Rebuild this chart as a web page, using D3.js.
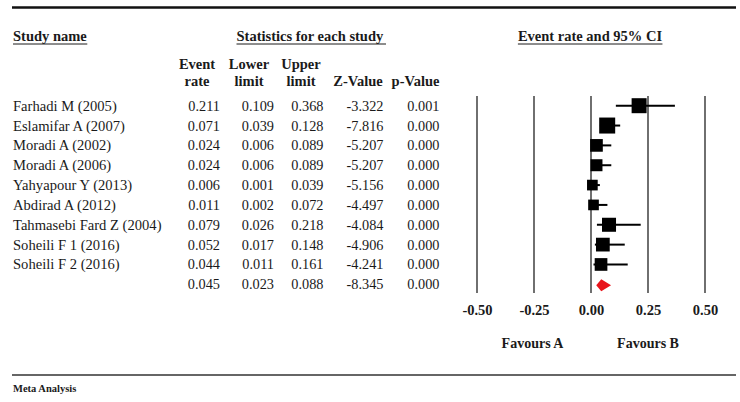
<!DOCTYPE html>
<html>
<head>
<meta charset="utf-8">
<script src="https://cdn.jsdelivr.net/npm/d3@7"></script>
<style>
  html, body { margin: 0; padding: 0; background: #fff; }
  svg { display: block; }
  text { font-family: "Liberation Serif", "Times New Roman", serif; fill: #1a1a1a; }
</style>
</head>
<body>
<svg id="chart" width="740" height="402"></svg>
<script>
// ---- Data ----
const studies = ["Farhadi M (2005)", "Eslamifar A (2007)", "Moradi A (2002)", "Moradi A (2006)",
  "Yahyapour Y (2013)", "Abdirad A (2012)", "Tahmasebi Fard Z (2004)", "Soheili F 1 (2016)", "Soheili F 2 (2016)"];
const eventRate = [0.211, 0.071, 0.024, 0.024, 0.006, 0.011, 0.079, 0.052, 0.044];
const lowerLimit = [0.109, 0.039, 0.006, 0.006, 0.001, 0.002, 0.026, 0.017, 0.011];
const upperLimit = [0.368, 0.128, 0.089, 0.089, 0.039, 0.072, 0.218, 0.148, 0.161];
const zValue = [-3.322, -7.816, -5.207, -5.207, -5.156, -4.497, -4.084, -4.906, -4.241];
const pValue = [0.001, 0.000, 0.000, 0.000, 0.000, 0.000, 0.000, 0.000, 0.000];
const relWeight = [14.4, 16.4, 10.3, 9.2, 7.3, 7.3, 12.6, 12.1, 10.3]; // estimated from square sizes
const summary = { eventRate: 0.045, lower: 0.023, upper: 0.088, z: -8.345, p: 0.000 };
const xTicks = [-0.50, -0.25, 0.00, 0.25, 0.50];
const columnHeaders = [["Event", "rate"], ["Lower", "limit"], ["Upper", "limit"], ["", "Z-Value"], ["", "p-Value"]];

// ---- Layout ----
const locale = d3.formatLocale({ decimal: ".", thousands: ",", grouping: [3], currency: ["", ""], minus: "-" });
const svg = d3.select("#chart");
const x = d3.scaleLinear().domain([-0.5, 0.5]).range([477, 705]);
const rowIds = d3.range(studies.length + 1);
const y = d3.scalePoint().domain(rowIds).range([105.7, 284.3]);
const size = d3.scaleSqrt().domain([0, d3.max(relWeight)]).range([0, 16]);
const gridTop = 96, gridBottom = 293;

// top & bottom rules
svg.append("line").attr("x1", 12).attr("x2", 736).attr("y1", 7.5).attr("y2", 7.5)
  .attr("stroke", "#111").attr("stroke-width", 2.5);
svg.append("line").attr("x1", 12).attr("x2", 736).attr("y1", 375).attr("y2", 375)
  .attr("stroke", "#666").attr("stroke-width", 2);

// Section headers with underline
function underlined(txt, xPos, anchor, extra) {
  const t = svg.append("text").attr("x", xPos).attr("y", 41)
    .attr("text-anchor", anchor).attr("font-size", 14.5).attr("font-weight", "bold").text(txt);
  const bb = t.node().getBBox();
  svg.append("line").attr("x1", bb.x).attr("x2", bb.x + bb.width + (extra || 0))
    .attr("y1", 44).attr("y2", 44).attr("stroke", "#1a1a1a").attr("stroke-width", 1);
}
underlined("Study name", 13, "start", 0);
underlined("Statistics for each study", 236.5, "start", 2);
underlined("Event rate and 95% CI", 590, "middle", 0);

// Column headers
const headerX = [197, 249, 301, 358, 415.5];
columnHeaders.forEach((h, i) => {
  svg.append("text").attr("x", headerX[i]).attr("y", 68.5).attr("text-anchor", "middle")
    .attr("font-weight", "bold").attr("font-size", 14.5).text(h[0]);
  svg.append("text").attr("x", headerX[i]).attr("y", 86).attr("text-anchor", "middle")
    .attr("font-weight", "bold").attr("font-size", 14.5).text(h[1]);
});

// Table rows
const colRight = [220, 274, 323.5, 383.5, 439.5];
const fmt3 = locale.format(".3f");
const rows = studies.map((s, i) => ({ name: s, vals: [eventRate[i], lowerLimit[i], upperLimit[i], zValue[i], pValue[i]] }));
rows.push({ name: "", vals: [summary.eventRate, summary.lower, summary.upper, summary.z, summary.p] });
rows.forEach((r, i) => {
  const yy = y(i) + 5;
  svg.append("text").attr("x", 13).attr("y", yy).attr("font-size", 14.6).text(r.name);
  r.vals.forEach((v, j) => {
    svg.append("text").attr("x", colRight[j]).attr("y", yy).attr("font-size", 14.3)
      .attr("text-anchor", "end").text(fmt3(v));
  });
});

// Grid lines
svg.append("g").selectAll("line").data(xTicks).join("line")
  .attr("x1", d => x(d)).attr("x2", d => x(d))
  .attr("y1", gridTop).attr("y2", gridBottom)
  .attr("stroke", "#333").attr("stroke-width", 1.4);

// Axis labels
const axis = svg.append("g").attr("transform", `translate(0,${gridBottom})`)
  .call(d3.axisBottom(x).tickValues(xTicks).tickFormat(locale.format(".2f")).tickSize(0).tickPadding(11.5));
axis.select(".domain").remove();
axis.selectAll("text").attr("font-family", '"Liberation Serif", "Times New Roman", serif')
  .attr("font-size", 14.5).attr("font-weight", "bold").attr("fill", "#1a1a1a");

// CI lines and squares
const studyIdx = d3.range(studies.length);
svg.append("g").selectAll("line").data(studyIdx).join("line")
  .attr("x1", i => x(lowerLimit[i])).attr("x2", i => x(upperLimit[i]))
  .attr("y1", i => y(i)).attr("y2", i => y(i))
  .attr("stroke", "#000").attr("stroke-width", 2);
svg.append("g").selectAll("rect").data(studyIdx).join("rect")
  .attr("x", i => x(eventRate[i]) - size(relWeight[i]) / 2)
  .attr("y", i => y(i) - size(relWeight[i]) / 2)
  .attr("width", i => size(relWeight[i])).attr("height", i => size(relWeight[i]))
  .attr("fill", "#000");

// Summary diamond
const sy = y(studies.length) + 1;
const dh = 6;
svg.append("polygon")
  .attr("points", [
    [x(summary.lower), sy], [x(summary.eventRate), sy - dh],
    [x(summary.upper), sy], [x(summary.eventRate), sy + dh]
  ].map(p => p.join(",")).join(" "))
  .attr("fill", "#e8141b");

// Favours labels
svg.append("text").attr("x", 532.5).attr("y", 348).attr("text-anchor", "middle")
  .attr("font-size", 14).attr("font-weight", "bold").text("Favours A");
svg.append("text").attr("x", 648).attr("y", 348).attr("text-anchor", "middle")
  .attr("font-size", 14).attr("font-weight", "bold").text("Favours B");

// Footer
svg.append("text").attr("x", 13).attr("y", 392).attr("font-size", 10.5)
  .attr("font-weight", "bold").text("Meta Analysis");
</script>
</body>
</html>
